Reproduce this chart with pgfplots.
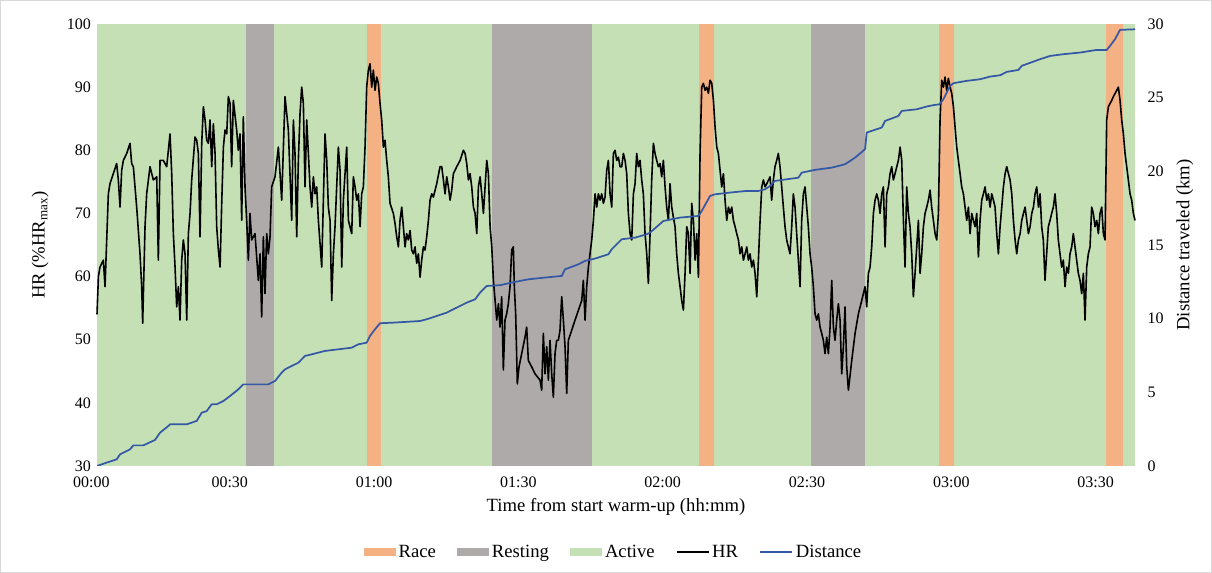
\documentclass[border=0pt]{standalone}
\usepackage{fontspec}
\setmainfont{Liberation Serif}
\usepackage{pgfplots}
\usepackage{pgfplotstable}
\pgfplotsset{compat=1.18}
\definecolor{active}{RGB}{197,224,180}
\definecolor{race}{RGB}{244,177,131}
\definecolor{resting}{RGB}{174,170,170}
\definecolor{distblue}{RGB}{52,88,165}
\newcommand{\tickfont}{\fontsize{12}{14}\selectfont}
\newcommand{\labfont}{\fontsize{14}{16}\selectfont}

\pgfplotstableread{
t hr
0 54.0
0.30 60.0
0.64 61.5
1.35 62.6
1.71 58.4
2.42 73.1
2.77 74.7
3.48 76.3
4.19 77.9
4.55 75.3
4.91 71.0
5.26 76.8
5.62 78.4
6.33 79.5
7.04 81.1
7.39 77.9
7.75 77.4
8.46 71.0
9.17 63.6
9.53 58.4
9.74 52.6
10.24 67.9
10.59 73.1
11.30 77.4
12.02 75.3
12.73 75.8
13.08 62.6
13.44 78.4
14.15 78.4
14.86 77.4
15.57 82.6
15.93 76.3
16.28 66.8
16.64 61.5
16.99 55.2
17.35 58.4
17.70 53.1
18.06 62.6
18.41 65.8
18.77 63.6
19.13 53.1
19.48 66.8
19.84 70.0
20.19 75.3
20.90 82.1
21.26 81.6
21.61 79.5
21.97 66.3
22.33 81.1
22.68 86.9
23.04 84.8
23.39 81.6
23.75 81.1
24.10 84.8
24.46 77.4
24.81 84.2
25.17 79.5
25.52 67.9
25.88 64.2
26.24 61.5
26.59 71.6
26.95 80.5
27.30 83.2
27.66 82.6
28.01 88.5
28.37 87.4
28.71 77.4
29.07 87.9
29.78 83.2
30.13 80.0
30.49 82.6
30.85 68.9
31.20 85.3
31.56 74.2
31.91 68.9
32.27 62.6
32.62 70.0
32.98 65.8
33.69 66.8
34.40 59.4
34.76 63.6
35.11 53.6
35.47 66.3
35.82 57.3
36.18 66.8
36.53 63.6
36.89 66.3
37.24 74.2
37.96 75.8
38.67 80.5
39.38 72.1
40.09 88.5
40.80 83.2
41.51 68.9
41.87 84.8
42.22 79.5
42.58 66.3
42.93 78.4
43.29 85.8
43.64 90.0
44.00 87.4
44.35 74.2
44.71 84.8
45.42 74.2
45.78 71.0
46.13 75.8
46.49 73.1
46.84 74.2
47.20 68.9
47.91 61.5
48.62 82.6
48.98 78.4
49.33 71.0
49.69 68.9
50.04 56.2
50.40 63.6
50.75 67.9
51.46 80.5
51.82 76.8
52.18 61.5
52.53 72.1
53.24 80.5
53.60 68.9
54.31 66.8
54.66 75.8
55.02 74.2
55.38 72.1
55.73 73.1
56.09 67.9
56.44 73.1
56.79 74.2
57.15 80.5
57.50 90.0
57.86 92.7
58.21 93.7
58.57 90.0
58.92 92.7
59.28 89.5
59.64 91.6
59.99 90.6
60.35 87.4
60.70 84.8
61.06 80.5
61.41 81.6
61.77 78.4
62.12 75.8
62.48 71.6
63.19 70.0
63.55 68.4
63.90 66.3
64.26 64.7
64.61 68.9
64.97 71.0
65.32 67.9
65.68 64.7
66.03 66.8
66.39 65.8
66.75 67.3
67.10 64.2
67.46 63.6
67.81 64.7
68.17 62.1
68.52 63.6
68.88 59.9
69.23 62.6
69.59 64.7
69.94 64.2
70.30 66.3
70.66 68.9
71.01 72.1
71.37 73.1
71.72 72.6
72.43 74.7
73.14 77.4
73.50 77.4
73.86 75.3
74.21 73.1
74.57 75.8
74.92 74.2
75.28 72.1
75.63 73.7
75.99 76.3
76.70 77.4
77.41 78.4
78.12 80.0
78.48 79.5
78.83 77.9
79.19 75.3
79.54 76.3
79.90 74.2
80.26 71.0
80.61 70.0
80.97 66.8
81.32 74.2
81.68 75.8
82.03 73.1
82.39 70.0
82.74 74.2
83.10 78.4
83.45 76.3
83.81 67.9
84.17 64.7
84.52 59.4
84.88 56.2
85.23 53.1
85.59 55.7
85.93 52.0
86.28 56.8
86.64 45.2
86.99 53.1
87.35 54.1
87.70 55.7
88.06 58.4
88.42 64.2
88.77 64.7
88.98 58.4
89.27 54.1
89.62 43.0
89.98 45.7
90.55 47.8
91.26 50.4
91.61 52.0
91.97 46.7
92.68 45.7
93.39 44.6
94.46 43.6
94.81 42.0
95.17 51.0
95.53 44.6
95.88 48.9
96.24 43.6
96.59 49.9
96.95 44.6
97.30 40.9
97.66 47.8
98.01 49.9
98.37 49.9
98.72 51.5
99.08 56.8
99.44 53.1
99.79 48.9
100.15 41.5
100.50 49.9
101.92 53.1
103.35 56.2
103.70 59.4
104.06 53.1
104.41 58.4
104.77 61.5
105.12 63.6
105.48 65.8
105.84 68.9
106.19 73.1
106.55 71.0
106.90 73.1
107.26 72.1
107.61 73.1
107.97 71.6
108.32 72.6
108.68 76.8
109.03 78.4
109.39 73.1
109.75 71.0
110.10 79.5
110.46 80.0
110.81 78.4
111.17 78.9
111.52 77.4
111.88 77.4
112.23 79.5
112.59 78.4
112.94 76.3
113.30 70.0
113.66 66.8
114.01 65.8
114.37 73.1
114.72 74.7
115.07 79.5
115.43 77.4
115.78 78.4
116.14 75.3
116.49 73.1
116.85 66.8
117.21 63.6
117.56 58.9
117.92 66.8
118.27 75.3
118.63 81.1
118.98 79.5
119.34 78.4
119.69 77.4
120.05 77.9
120.40 75.8
120.76 78.4
121.12 74.2
121.47 71.0
121.83 68.9
122.18 74.7
122.54 71.0
122.89 69.4
123.25 67.9
123.60 63.6
123.96 60.5
124.32 58.4
124.67 56.2
125.03 54.7
125.38 60.5
125.74 67.9
126.09 66.8
126.45 60.5
126.80 71.6
127.16 68.9
127.52 62.6
127.87 66.8
128.23 59.9
128.58 79.5
128.94 90.0
129.29 90.6
129.65 89.5
130.00 90.0
130.36 89.0
130.71 91.1
131.07 90.6
131.43 87.9
131.78 83.7
132.14 80.5
132.49 79.5
132.85 76.8
133.20 74.2
133.56 76.3
133.91 72.1
134.27 68.9
134.63 71.0
134.98 70.0
135.34 71.0
135.69 68.9
136.05 67.9
136.40 66.8
136.76 65.8
137.11 63.6
137.47 64.7
137.83 62.6
138.18 63.6
138.54 64.7
138.89 62.6
139.25 63.6
139.60 61.5
139.96 62.6
140.31 60.5
140.67 56.8
141.02 62.6
141.38 68.9
141.74 74.2
142.09 75.3
142.45 74.2
142.80 74.7
143.51 75.8
143.85 72.1
144.21 75.3
144.56 77.4
144.92 78.4
145.27 79.5
145.63 77.4
145.99 74.2
146.34 71.0
146.70 67.9
147.05 65.8
147.41 64.7
147.76 63.6
148.12 67.9
148.47 73.1
148.83 71.0
149.18 66.8
149.54 62.6
149.90 58.4
150.25 68.9
150.61 73.1
150.96 74.2
151.32 71.0
151.67 67.9
152.03 63.6
152.38 61.5
152.74 58.4
153.10 54.1
153.45 53.1
153.81 54.1
154.16 52.0
154.52 51.0
154.87 49.9
155.23 47.8
155.58 50.4
155.94 47.8
156.30 52.0
156.65 59.4
157.01 52.0
157.36 49.9
157.72 53.1
158.07 55.7
158.43 53.1
158.78 44.6
159.14 48.9
159.49 55.2
159.85 45.7
160.21 42.0
160.92 46.7
161.63 51.0
162.34 54.1
163.05 56.2
163.76 58.4
164.12 55.2
164.47 60.5
164.83 61.5
165.18 64.7
165.54 70.0
165.89 72.1
166.25 73.1
166.60 72.1
166.96 70.0
167.32 73.1
167.67 74.2
168.03 64.7
168.38 73.1
168.74 74.2
169.09 76.3
169.45 77.4
169.80 75.3
170.16 76.3
170.52 77.4
170.87 78.4
171.23 80.5
171.58 78.4
171.94 68.9
172.29 61.5
172.64 74.2
173.00 70.0
173.35 67.9
173.71 63.6
174.06 56.8
174.42 60.5
174.78 64.7
175.13 68.9
175.49 60.5
175.84 63.6
176.20 67.9
176.55 70.0
176.91 71.0
177.26 72.1
177.62 73.7
177.97 71.0
178.33 68.9
178.69 66.8
179.04 65.8
179.40 70.0
179.75 84.8
180.11 91.1
180.46 90.0
180.82 91.6
181.17 89.5
181.53 91.4
181.89 90.0
182.24 89.0
182.60 86.9
182.95 83.7
183.31 80.5
183.66 78.4
184.02 76.3
184.37 74.2
184.73 73.1
185.08 71.0
185.44 68.9
185.80 71.0
186.15 66.8
186.51 70.0
186.86 68.9
187.22 67.9
187.57 70.0
187.93 63.1
188.28 68.9
188.64 72.1
188.99 73.1
189.35 74.2
189.71 72.1
190.06 73.1
190.42 71.0
190.77 73.1
191.13 72.1
191.48 71.0
191.84 66.8
192.19 63.6
192.55 67.9
192.91 71.0
193.26 74.2
193.62 76.3
193.97 77.4
194.33 76.3
194.68 75.3
195.04 73.1
195.39 68.9
195.75 65.8
196.10 63.6
196.46 65.8
196.82 66.8
197.17 68.9
197.53 70.0
197.88 71.0
198.24 68.9
198.59 66.8
198.95 67.9
199.30 70.0
199.66 71.0
200.01 73.1
200.37 74.2
200.73 71.0
201.08 73.1
201.42 67.9
201.77 65.8
202.13 59.4
202.48 63.6
202.84 67.9
203.20 68.9
203.55 70.0
203.91 71.0
204.26 73.1
204.62 70.0
204.97 65.8
205.33 63.6
205.68 61.5
206.04 62.6
206.40 58.4
206.75 61.5
207.11 60.5
207.46 63.6
207.82 64.7
208.17 66.8
208.53 64.7
208.88 62.6
209.24 60.5
209.59 59.4
209.95 57.3
210.31 60.5
210.66 53.1
211.02 61.5
211.37 63.6
211.73 64.7
212.08 71.0
212.44 70.0
212.79 67.9
213.15 68.9
213.51 66.8
213.86 70.0
214.22 71.0
214.57 66.8
214.93 65.8
215.28 84.8
215.64 86.9
215.99 87.4
216.35 87.9
216.70 88.5
217.06 89.0
217.42 89.5
217.77 90.0
218.13 87.9
218.48 84.8
218.84 82.6
219.19 79.5
219.55 77.4
219.90 75.3
220.26 73.1
220.61 72.1
220.97 70.0
221.32 68.9
}\hrdata

\pgfplotstableread{
t km
0 0
2.06 0.23
4.19 0.45
4.91 0.79
7.04 1.13
7.75 1.40
9.88 1.40
12.38 1.77
13.44 2.26
15.22 2.72
15.57 2.83
19.13 2.83
21.26 3.06
22.33 3.62
23.39 3.73
24.46 4.19
25.52 4.19
26.95 4.41
28.37 4.75
30.13 5.20
31.20 5.54
36.53 5.54
37.96 5.77
39.38 6.34
40.09 6.56
41.51 6.79
42.93 7.01
44.35 7.47
45.78 7.58
48.62 7.81
51.46 7.92
54.31 8.03
55.73 8.26
57.50 8.37
58.21 8.83
59.28 9.28
60.35 9.69
63.19 9.73
68.88 9.84
70.30 9.96
72.43 10.18
74.57 10.41
75.99 10.64
77.41 10.86
78.83 11.09
80.61 11.31
81.68 11.77
83.10 12.22
85.92 12.27
88.42 12.45
91.97 12.67
95.53 12.79
99.08 12.90
99.79 13.35
102.64 13.69
104.06 13.92
106.19 14.08
109.03 14.37
109.75 14.71
111.88 15.39
114.72 15.50
117.21 15.73
117.92 15.84
120.76 16.63
124.32 16.86
128.23 16.97
128.94 17.31
130.71 18.33
131.78 18.44
134.98 18.56
138.54 18.67
141.02 18.67
142.43 18.78
143.51 19.01
144.56 19.35
149.54 19.57
150.25 19.91
153.10 20.10
156.65 20.25
159.49 20.48
161.63 20.93
163.76 21.50
164.12 22.63
167.32 22.97
168.03 23.42
170.87 23.76
171.58 24.10
174.78 24.21
176.91 24.40
178.33 24.49
179.61 24.55
180.46 24.89
181.89 25.80
182.60 25.98
185.44 26.14
188.28 26.25
190.42 26.43
192.55 26.52
193.97 26.75
196.46 26.88
197.17 27.16
201.08 27.61
203.20 27.83
206.04 27.95
209.59 28.06
211.73 28.17
213.15 28.24
215.28 28.24
215.99 28.51
217.06 28.97
218.13 29.60
221.32 29.64
}\distdata

\pgfplotsset{
  base/.style={
    scale only axis,
    width=778.5pt, height=331.5pt,
    at={(72.75pt,80.25pt)}, anchor=south west,
    xmin=0, xmax=221.32,
    axis line style={draw=none},
    major tick length=0pt,
    tick label style={font=\tickfont},
    /pgf/number format/assume math mode=true,
  },
  swatch/.style={legend image code/.code={\fill[##1] (0pt,-3pt) rectangle (24pt,3pt);}},
  linesw/.style={legend image code/.code={\draw[##1] (0pt,0pt) -- (24pt,0pt);}},
}

\begin{document}
\begin{tikzpicture}
\path[use as bounding box] (0,0) rectangle (909pt,429.75pt);
\draw[color=black!15, line width=0.75pt] (0.5pt,0.5pt) rectangle (908.5pt,429.25pt);

\begin{axis}[base,
  clip=false,
  ymin=30, ymax=100, ytick={30,40,...,100},
  xtick={28.30,59.07,89.84,120.61,151.38,182.15,212.92},
  xticklabels={00:30,01:00,01:30,02:00,02:30,03:00,03:30},
  xticklabel style={yshift=-4.5pt},
  yticklabel style={xshift=-1pt},
  every axis x label/.style={at={(rel axis cs:0.5,-0.0928)}, anchor=center, font=\labfont},
  every axis y label/.style={at={(rel axis cs:-0.0549,0.5)}, anchor=center, rotate=90, font=\labfont},
  xlabel={Time from start warm-up (hh:mm)},
  ylabel={HR (\%HR\textsubscript{max})},
]
\addplot[fill=active, draw=none, forget plot] coordinates {(0,30) (0,100) (221.32,100) (221.32,30)} -- cycle;
\addplot[fill=resting, draw=none, forget plot] coordinates {(31.77,30) (31.77,100) (37.80,100) (37.80,30)} -- cycle;
\addplot[fill=resting, draw=none, forget plot] coordinates {(84.30,30) (84.30,100) (105.50,100) (105.50,30)} -- cycle;
\addplot[fill=resting, draw=none, forget plot] coordinates {(152.20,30) (152.20,100) (163.80,100) (163.80,30)} -- cycle;
\addplot[fill=race, draw=none, forget plot] coordinates {(57.57,30) (57.57,100) (60.55,100) (60.55,30)} -- cycle;
\addplot[fill=race, draw=none, forget plot] coordinates {(128.40,30) (128.40,100) (131.60,100) (131.60,30)} -- cycle;
\addplot[fill=race, draw=none, forget plot] coordinates {(179.60,30) (179.60,100) (182.80,100) (182.80,30)} -- cycle;
\addplot[fill=race, draw=none, forget plot] coordinates {(215.10,30) (215.10,100) (218.70,100) (218.70,30)} -- cycle;
\addplot[black, line width=1.2pt, line join=round] table[x=t, y=hr] {\hrdata};
\node[anchor=north, yshift=-4.5pt, font=\tickfont, inner sep=0.3333em] at (axis cs:-1.2,30) {00:00};
\end{axis}

\begin{axis}[base,
  ymin=0, ymax=30, ytick={0,5,...,30},
  axis y line*=right, axis x line=none,
  yticklabel style={xshift=6pt},
  every axis y label/.style={at={(rel axis cs:1.048,0.5)}, anchor=center, rotate=90, font=\labfont},
  ylabel={Distance traveled (km)},
  legend columns=-1,
  legend style={at={(rel axis cs:0.498,-0.1946)}, anchor=center, draw=none, fill=none,
    font=\labfont, inner sep=0pt,
    /tikz/every even column/.append style={column sep=14pt}},
  legend cell align=left,
]
\addlegendimage{swatch, fill=race, draw=none}
\addlegendentry{Race}
\addlegendimage{swatch, fill=resting, draw=none}
\addlegendentry{Resting}
\addlegendimage{swatch, fill=active, draw=none}
\addlegendentry{Active}
\addlegendimage{linesw, black, line width=1.1pt}
\addlegendentry{HR}
\addplot[linesw, distblue, line width=1.3pt, line join=round] table[x=t, y=km] {\distdata};
\addlegendentry{Distance}
\end{axis}
\end{tikzpicture}
\end{document}
